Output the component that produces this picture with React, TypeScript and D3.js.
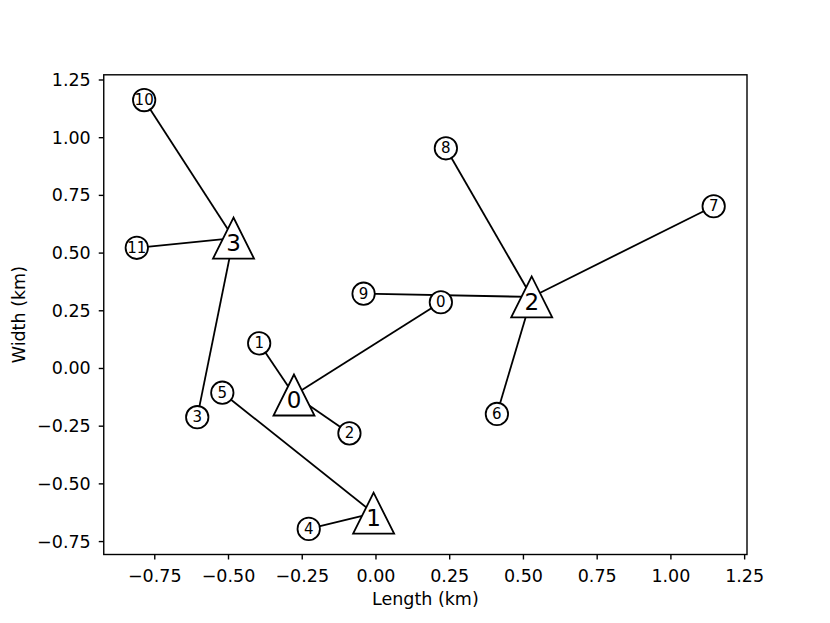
import React from "react";
import * as d3 from "d3";

const circleX = [0.22, -0.396, -0.09, -0.606, -0.228, -0.521, 0.41, 1.145, 0.237, -0.042, -0.786, -0.811];
const circleY = [0.287, 0.109, -0.281, -0.211, -0.695, -0.105, -0.197, 0.703, 0.954, 0.324, 1.163, 0.523];
const circleAssign = [0, 0, 0, 3, 1, 1, 2, 2, 2, 2, 3, 3];
const triX = [-0.278, -0.008, 0.528, -0.483];
const triY = [-0.115, -0.627, 0.31, 0.565];
const xTicks = [-0.75, -0.5, -0.25, 0, 0.25, 0.5, 0.75, 1.0, 1.25];
const yTicks = [-0.75, -0.5, -0.25, 0, 0.25, 0.5, 0.75, 1.0, 1.25];
const xLabel = "Length (km)";
const yLabel = "Width (km)";

const W = 830, H = 623;
const L = 103.75, R = 747, T = 74.8, B = 554.5;
const FONT = "DejaVu Sans, sans-serif";
const FS = 17.5;

const fmt = (v: number) => {
  const s = Math.abs(v).toFixed(2);
  return v < 0 ? "\u2212" + s : s;
};

export default function App() {
  const x = d3.scaleLinear().domain([-0.923, 1.258]).range([L, R]);
  const y = d3.scaleLinear().domain([-0.806, 1.2725]).range([B, T]);
  const triPath = (cx: number, cy: number) => {
    const s = 20.5;
    return `M${cx},${cy - s}L${cx - s},${cy + s}L${cx + s},${cy + s}Z`;
  };
  return (
    <svg width={W} height={H} style={{ position: "absolute", left: 0, top: 0, background: "#fff" }} fontFamily={FONT}>
      <rect x={0} y={0} width={W} height={H} fill="#fff" />
      {circleX.map((cx, i) => (
        <line key={"l" + i} x1={x(cx)} y1={y(circleY[i])} x2={x(triX[circleAssign[i]])} y2={y(triY[circleAssign[i]])} stroke="#000" strokeWidth={1.8} />
      ))}
      {circleX.map((cx, i) => (
        <g key={"c" + i}>
          <circle cx={x(cx)} cy={y(circleY[i])} r={11.2} fill="#fff" stroke="#000" strokeWidth={1.8} />
          <text x={x(cx)} y={y(circleY[i])} textAnchor="middle" dominantBaseline="central" fontSize={15}>{i}</text>
        </g>
      ))}
      {triX.map((tx, i) => (
        <g key={"t" + i}>
          <path d={triPath(x(tx), y(triY[i]))} fill="#fff" stroke="#000" strokeWidth={1.8} strokeLinejoin="miter" />
          <text x={x(tx)} y={y(triY[i]) + 5} textAnchor="middle" dominantBaseline="central" fontSize={23}>{i}</text>
        </g>
      ))}
      <rect x={L} y={T} width={R - L} height={B - T} fill="none" stroke="#000" strokeWidth={1.4} />
      {xTicks.map((t) => (
        <g key={"xt" + t}>
          <line x1={x(t)} x2={x(t)} y1={B} y2={B + 5} stroke="#000" strokeWidth={1.4} />
          <text x={x(t)} y={581.7} textAnchor="middle" fontSize={FS}>{fmt(t)}</text>
        </g>
      ))}
      {yTicks.map((t) => (
        <g key={"yt" + t}>
          <line x1={L} x2={L - 5} y1={y(t)} y2={y(t)} stroke="#000" strokeWidth={1.4} />
          <text x={L - 13} y={y(t)} textAnchor="end" dominantBaseline="central" fontSize={FS}>{fmt(t)}</text>
        </g>
      ))}
      <text x={(L + R) / 2} y={605} textAnchor="middle" fontSize={FS}>{xLabel}</text>
      <text transform={`translate(25,${(T + B) / 2}) rotate(-90)`} textAnchor="middle" fontSize={FS}>{yLabel}</text>
    </svg>
  );
}
